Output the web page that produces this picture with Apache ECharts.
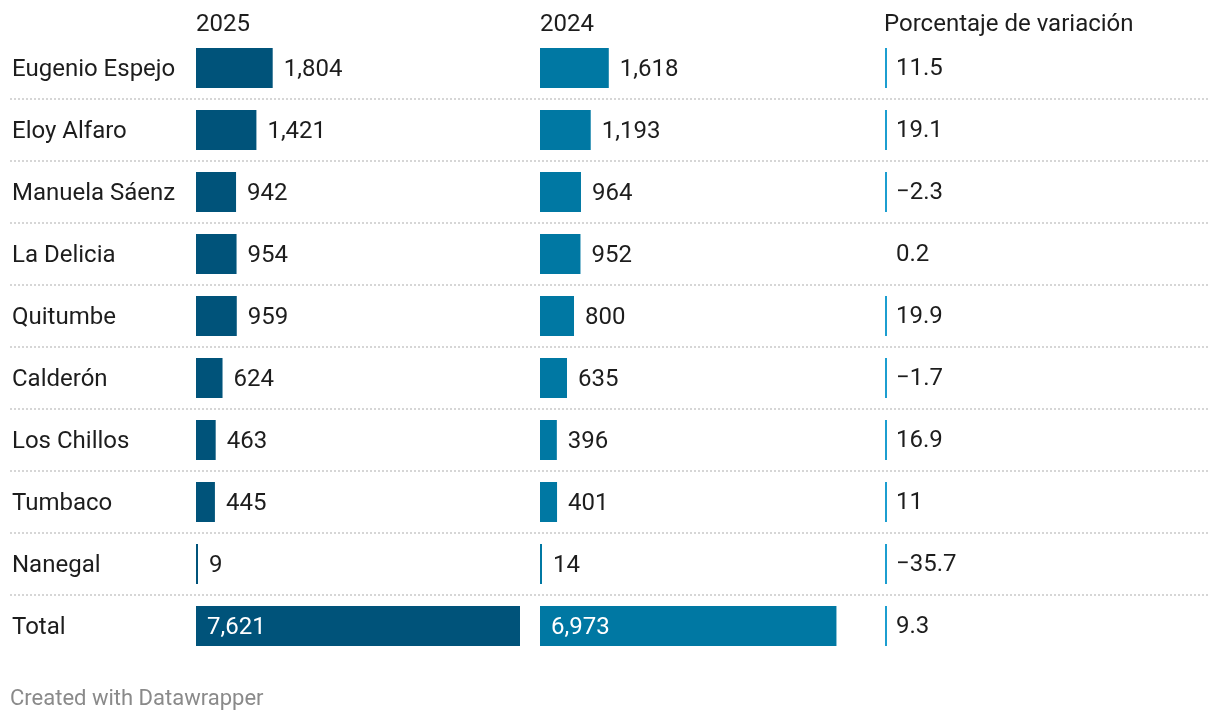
<!DOCTYPE html>
<html>
<head>
<meta charset="utf-8">
<script src="https://cdn.jsdelivr.net/npm/echarts@6/dist/echarts.min.js"></script>
<style>
html,body{margin:0;padding:0;background:#fff;}
#main{width:1220px;height:722px;}
</style>
</head>
<body>
<div id="main"></div>
<script>
const categories = ["Eugenio Espejo","Eloy Alfaro","Manuela Sáenz","La Delicia","Quitumbe","Calderón","Los Chillos","Tumbaco","Nanegal","Total"];
const values2025 = [1804,1421,942,954,959,624,463,445,9,7621];
const values2024 = [1618,1193,964,952,800,635,396,401,14,6973];
const variation = [11.5,19.1,-2.3,0.2,19.9,-1.7,16.9,11,-35.7,9.3];
const headers = ["2025","2024","Porcentaje de variación"];

const FONT = 'Roboto, "Noto Sans", sans-serif';
const FS = 24;
const TEXT = '#1d1d1d';
const DARK = '#00537a';
const LIGHT = '#0078a3';
const VARC = '#1c9ed0';
const scaleMax = 7621;
const totalIdx = categories.length - 1;

function fmt(v){ return v.toLocaleString('en-US'); }
function fmtVar(v){ return (v < 0 ? '\u2212' + Math.abs(v) : String(v)); }

function barData(vals, color){
  return vals.map((v,i)=>({
    value: v,
    itemStyle:{color: color},
    label: i === totalIdx ? {
      show:true, position:'insideLeft', distance:11, color:'#ffffff', offset:[0,1.5],
      fontSize:FS, fontFamily:FONT, formatter:()=>fmt(v)
    } : {
      show:true, position:'right', distance:11, color:TEXT, offset:[0,1.5],
      fontSize:FS, fontFamily:FONT, formatter:()=>fmt(v)
    }
  }));
}

const gridTop = 37, gridH = 620;
const chart = echarts.init(document.getElementById('main'), null, {renderer:'canvas'});
chart.setOption({
  animation:false,
  backgroundColor:'#ffffff',
  title: [
    {text: headers[0], left:191, top:8, textStyle:{fontSize:FS, fontWeight:'normal', color:TEXT, fontFamily:FONT}},
    {text: headers[1], left:535, top:8, textStyle:{fontSize:FS, fontWeight:'normal', color:TEXT, fontFamily:FONT}},
    {text: headers[2], left:879, top:8, textStyle:{fontSize:FS, fontWeight:'normal', color:TEXT, fontFamily:FONT}},
    {text: 'Created with Datawrapper', left:5, top:683, textStyle:{fontSize:22, fontWeight:'normal', color:'#8a8a8a', fontFamily:FONT}}
  ],
  grid: [
    {left:10, right:12, top:gridTop, height:gridH},
    {left:196, width:324, top:gridTop, height:gridH},
    {left:540, width:324, top:gridTop, height:gridH},
    {left:886, width:300, top:gridTop, height:gridH}
  ],
  xAxis: [
    {gridIndex:0, type:'value', min:0, max:1, show:false},
    {gridIndex:1, type:'value', min:0, max:scaleMax, show:false},
    {gridIndex:2, type:'value', min:0, max:scaleMax, show:false},
    {gridIndex:3, type:'value', min:0, max:1, show:false}
  ],
  yAxis: [
    {gridIndex:0, type:'value', min:0, max:categories.length, interval:1, inverse:true,
     axisLine:{show:false}, axisTick:{show:false}, axisLabel:{show:false},
     splitLine:{show:true, showMinLine:false, showMaxLine:false, lineStyle:{color:'#c9c9c9', type:[2,2], width:1.5}}},
    {gridIndex:1, type:'category', data:categories, inverse:true,
     axisLine:{show:false}, axisTick:{show:false}, splitLine:{show:false},
     axisLabel:{show:true, align:'left', margin:184, color:TEXT, fontSize:FS, fontFamily:FONT,
       formatter:(v)=>'{a|' + v + '}',
       rich:{a:{color:TEXT, fontSize:FS, fontFamily:FONT, padding:[3,0,0,0]}}}},
    {gridIndex:2, type:'category', data:categories, inverse:true, show:false},
    {gridIndex:3, type:'category', data:categories, inverse:true, show:false}
  ],
  series: [
    {type:'bar', xAxisIndex:1, yAxisIndex:1, barWidth:40, barMinHeight:2, data: barData(values2025, DARK)},
    {type:'bar', xAxisIndex:2, yAxisIndex:2, barWidth:40, barMinHeight:2, data: barData(values2024, LIGHT)},
    {type:'custom', xAxisIndex:3, yAxisIndex:3,
     data: variation.map((v,i)=>[i, v]),
     renderItem: function(params, api){
       const idx = api.value(0);
       const v = api.value(1);
       const p = api.coord([0, idx]);
       const children = [];
       if (Math.abs(v) >= 1) {
         children.push({type:'rect', shape:{x:p[0]-1, y:p[1]-20, width:2, height:40}, style:{fill:VARC}});
       }
       children.push({type:'text', style:{text: fmtVar(v), x:p[0]+10, y:p[1]+0.5, verticalAlign:'middle', fill:TEXT, fontSize:FS, fontFamily:FONT}});
       return {type:'group', children: children};
     }
    }
  ]
});
</script>
</body>
</html>
